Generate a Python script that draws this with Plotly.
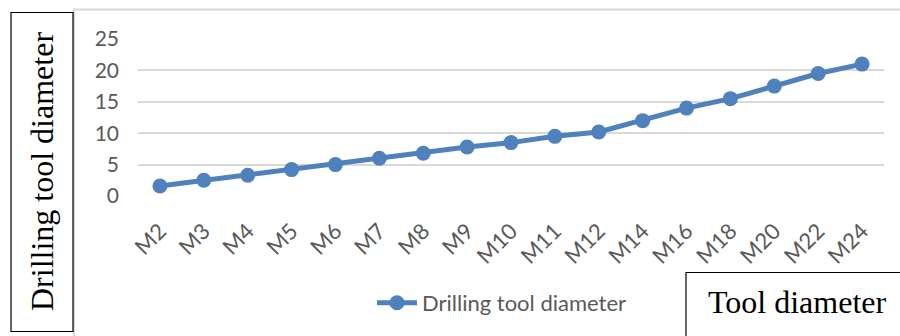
import plotly.graph_objects as go

# data
sizes = ['M2', 'M3', 'M4', 'M5', 'M6', 'M7', 'M8', 'M9', 'M10', 'M11',
         'M12', 'M14', 'M16', 'M18', 'M20', 'M22', 'M24']
drill_diam = [1.6, 2.5, 3.3, 4.2, 5.0, 6.0, 6.8, 7.8, 8.5, 9.5,
              10.2, 12.0, 14.0, 15.5, 17.5, 19.5, 21.0]
y_ticks = [0, 5, 10, 15, 20, 25]

W, H = 900, 336
BLUE = '#4F81BD'
GREY_TXT = '#595959'
GRID = '#D9D9D9'
SANS = 'Lato, Calibri, sans-serif'
SERIF = 'Liberation Serif, Times New Roman, serif'

fig = go.Figure()
fig.add_trace(go.Scatter(
    x=sizes, y=drill_diam, name='Drilling tool diameter',
    mode='lines+markers',
    line=dict(color=BLUE, width=5),
    marker=dict(color=BLUE, size=15),
))

fig.update_layout(
    width=W, height=H,
    margin=dict(l=0, r=0, t=0, b=0, autoexpand=False),
    paper_bgcolor='white', plot_bgcolor='white',
    showlegend=True,
    legend=dict(orientation='h', x=372 / W, y=(H - 303) / H, yanchor='middle',
                xanchor='left', font=dict(family=SANS, size=22, color=GREY_TXT),
                bgcolor='rgba(0,0,0,0)', itemwidth=40),
    xaxis=dict(domain=[138 / W, 884 / W], type='category',
               range=[-0.5, len(sizes) - 0.5],
               showgrid=False, showline=False, zeroline=False,
               tickangle=-45, ticks='', ticklabelstandoff=17,
               tickfont=dict(family=SANS, size=22, color=GREY_TXT)),
    yaxis=dict(domain=[(H - 196) / H, (H - 39) / H], range=[0, 25],
               tickvals=y_ticks, showgrid=True, gridcolor=GRID, gridwidth=1.5,
               zeroline=False, showline=False, ticks='', ticklabelstandoff=18,
               tickfont=dict(family=SANS, size=21, color=GREY_TXT)),
)

# outer chart frame (top and left edges visible)
fig.add_shape(type='rect', xref='paper', yref='paper',
              x0=74 / W, x1=1.05, y0=-0.05, y1=(H - 9.5) / H,
              line=dict(color=GRID, width=2), fillcolor='rgba(0,0,0,0)', layer='below')

# left boxed axis title
fig.add_shape(type='rect', xref='paper', yref='paper',
              x0=11 / W, x1=73 / W, y0=(H - 331.5) / H, y1=(H - 12.5) / H,
              line=dict(color='black', width=1.2), fillcolor='white')
fig.add_annotation(xref='paper', yref='paper', x=42 / W, y=(H - 172) / H,
                   xanchor='center', yanchor='middle',
                   text='Drilling tool diameter', textangle=-90, showarrow=False,
                   font=dict(family=SERIF, size=32, color='black'))

# bottom-right boxed axis title
fig.add_shape(type='rect', xref='paper', yref='paper',
              x0=686 / W, x1=1.05, y0=-0.05, y1=(H - 272.5) / H,
              line=dict(color='black', width=1.2), fillcolor='white')
fig.add_annotation(xref='paper', yref='paper', x=797 / W, y=(H - 302) / H,
                   xanchor='center', yanchor='middle',
                   text='Tool diameter', showarrow=False,
                   font=dict(family=SERIF, size=32, color='black'))

fig.write_html('out.html', config={'displayModeBar': False},
               post_script="document.body.style.margin='0';")
